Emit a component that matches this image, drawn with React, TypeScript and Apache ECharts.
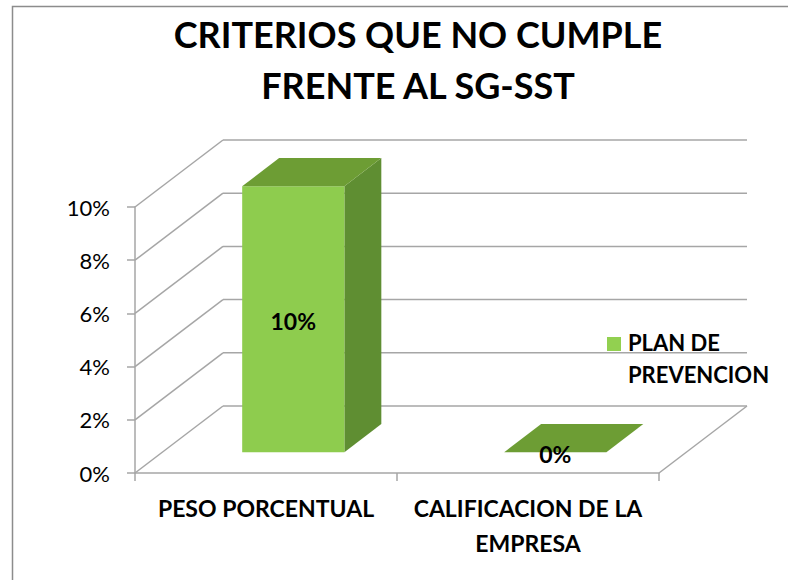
import React, { useEffect, useRef } from "react";
import * as echarts from "echarts";

const CATEGORIES = ["PESO PORCENTUAL", "CALIFICACION DE LA\nEMPRESA"];
const VALUES = [0.1, 0.0];
const Y_TICKS = [0, 0.02, 0.04, 0.06, 0.08, 0.1];
const SERIES_NAME = "PLAN DE\nPREVENCION";
const TITLE = "CRITERIOS QUE NO CUMPLE\nFRENTE AL SG-SST";

const FONT = "Lato";
const DX = 88;
const DY = -67;
const F1 = 0.31;
const F2 = 0.73;
const GRID_COLOR = "#A6A6A6";
const LEGEND_COLOR = "#92D050";

export default function App() {
  const ref = useRef<HTMLDivElement>(null);
  useEffect(() => {
    if (!ref.current) return;
    const chart = echarts.init(ref.current, null, { renderer: "svg" });
    const option: any = {
      animation: false,
      backgroundColor: "#ffffff",
      title: {
        text: TITLE,
        left: 418,
        top: 8,
        padding: 0,
        textAlign: "center",
        textStyle: {
          fontFamily: FONT,
          fontWeight: "bold",
          fontSize: 36,
          lineHeight: 51,
          color: "#000",
        },
      },
      grid: { left: 135, top: 207, width: 524, height: 266 },
      xAxis: {
        type: "category",
        data: CATEGORIES,
        axisLine: { show: true, lineStyle: { color: GRID_COLOR, width: 1.5 } },
        axisTick: { show: true, length: 8, lineStyle: { color: GRID_COLOR, width: 1.5 } },
        axisLabel: {
          interval: 0,
          margin: 17,
          fontFamily: FONT,
          fontWeight: "bold",
          fontSize: 23,
          lineHeight: 35,
          color: "#000",
        },
        splitLine: { show: false },
      },
      yAxis: {
        type: "value",
        min: 0,
        max: 0.1,
        interval: 0.02,
        axisLine: { show: true, lineStyle: { color: GRID_COLOR, width: 1.5 } },
        axisTick: { show: true, length: 8, lineStyle: { color: GRID_COLOR, width: 1.5 } },
        axisLabel: {
          margin: 25,
          fontFamily: FONT,
          fontSize: 22,
          color: "#000",
          formatter: (v: number) => Math.round(v * 100) + "%",
        },
        splitLine: { show: false },
      },
      graphic: [
        {
          type: "rect",
          shape: { x: 12.5, y: 6.5, width: 900, height: 800 },
          style: { fill: "none", stroke: "#8C8C8C", lineWidth: 1.5 },
          silent: true,
          z: 100,
        },
        {
          type: "group",
          left: 607,
          top: 326,
          silent: true,
          children: [
            {
              type: "rect",
              shape: { x: 0, y: 11, width: 14, height: 14 },
              style: { fill: LEGEND_COLOR },
            },
            {
              type: "text",
              x: 21,
              y: 0,
              style: {
                text: SERIES_NAME,
                fontFamily: FONT,
                fontWeight: "bold",
                fontSize: 22,
                lineHeight: 32,
                verticalAlign: "top",
                fill: "#000",
              },
            },
          ],
        },
      ],
      series: [
        {
          type: "custom",
          name: "walls",
          silent: true,
          encode: { x: 0, y: 1 },
          data: Y_TICKS.map((v) => [0, v]),
          z: 1,
          renderItem: (params: any, api: any) => {
            const v = api.value(1);
            const cs = params.coordSys;
            const y = api.coord([0, v])[1];
            const x0 = cs.x;
            const x1 = cs.x + cs.width;
            const style = { stroke: GRID_COLOR, lineWidth: 1.5 };
            const children: any[] = [
              { type: "line", shape: { x1: x0, y1: y, x2: x0 + DX, y2: y + DY }, style },
              { type: "line", shape: { x1: x0 + DX, y1: y + DY, x2: x1 + DX, y2: y + DY }, style },
            ];
            if (v === 0) {
              children.push({ type: "line", shape: { x1: x1, y1: y, x2: x1 + DX, y2: y + DY }, style });
            }
            return { type: "group", children };
          },
        },
        {
          type: "custom",
          name: SERIES_NAME,
          encode: { x: 0, y: 1 },
          itemStyle: { color: LEGEND_COLOR },
          data: VALUES.map((v, i) => [i, v]),
          z: 3,
          renderItem: (params: any, api: any) => {
            const i = api.value(0);
            const v = api.value(1);
            const top = api.coord([i, v]);
            const base = api.coord([i, 0]);
            const bw = api.size([1, 0])[0] * 0.39;
            const fdx = DX * F1;
            const fdy = DY * F1;
            const sdx = DX * (F2 - F1);
            const sdy = DY * (F2 - F1);
            const xL = top[0] - bw / 2 + fdx;
            const xR = xL + bw;
            const yT = top[1] + fdy;
            const yB = base[1] + fdy;
            const children: any[] = [];
            if (yB - yT > 0.5) {
              children.push({
                type: "polygon",
                shape: { points: [[xR, yT], [xR + sdx, yT + sdy], [xR + sdx, yB + sdy], [xR, yB]] },
                style: { fill: "#5F8E32" },
              });
              children.push({
                type: "rect",
                shape: { x: xL, y: yT, width: bw, height: yB - yT },
                style: { fill: "#8ECC4E" },
              });
            }
            children.push({
              type: "polygon",
              shape: { points: [[xL, yT], [xR, yT], [xR + sdx, yT + sdy], [xL + sdx, yT + sdy]] },
              style: { fill: "#6D9D34" },
            });
            children.push({
              type: "text",
              style: {
                x: (xL + xR) / 2,
                y: (yT + yB) / 2 + 2,
                text: Math.round(v * 100) + "%",
                align: "center",
                verticalAlign: "middle",
                fontFamily: FONT,
                fontWeight: "bold",
                fontSize: 23,
                fill: "#000",
              },
            });
            return { type: "group", children };
          },
        },
      ],
    };
    chart.setOption(option);
    return () => chart.dispose();
  }, []);
  return (
    <div
      ref={ref}
      style={{ position: "fixed", left: 0, top: 0, width: 788, height: 580, background: "#fff" }}
    />
  );
}
